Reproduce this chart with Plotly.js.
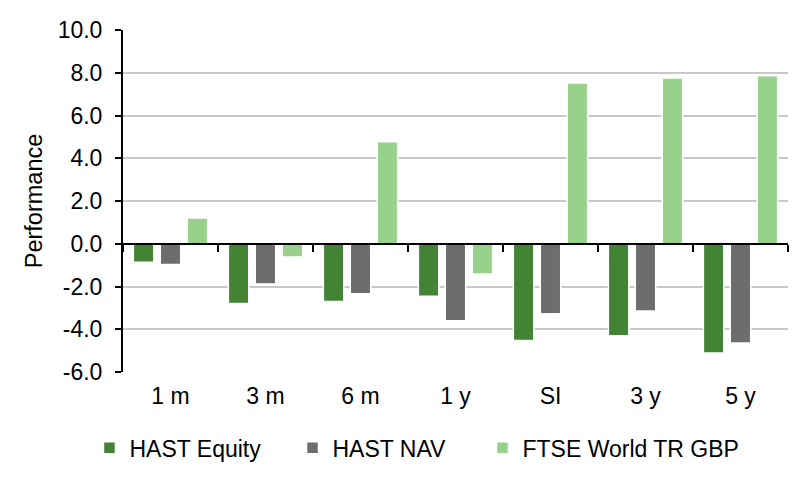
<!DOCTYPE html>
<html>
<head>
<meta charset="utf-8">
<script src="https://cdn.plot.ly/plotly-3.0.1.min.js"></script>
<style>html,body{margin:0;padding:0;background:#fff;}#chart{width:800px;height:485px;}</style>
</head>
<body>
<div id="chart"></div>
<script>
const categories = ["1 m", "3 m", "6 m", "1 y", "SI", "3 y", "5 y"];
const hastEquity = [-0.86, -2.8, -2.7, -2.46, -4.53, -4.3, -5.11];
const hastNav = [-0.97, -1.88, -2.34, -3.6, -3.27, -3.15, -4.64];
const ftseWorld = [1.2, -0.62, 4.77, -1.42, 7.52, 7.76, 7.86];
const seriesNames = ["HAST Equity", "HAST NAV", "FTSE World TR GBP"];
const yTicks = [-6, -4, -2, 0, 2, 4, 6, 8, 10];

const FONT = "Liberation Sans, Arial, sans-serif";
const FS = 23;
const colors = ["#428334", "#6d6d6d", "#98d18b"];
const series = [hastEquity, hastNav, ftseWorld];
const legendIds = ["legend", "legend2", "legend3"];
const legendX = [-0.0504, 0.2549, 0.5406];

const traces = series.map((vals, i) => ({
  type: "bar",
  name: seriesNames[i],
  x: categories,
  y: vals,
  legend: legendIds[i],
  marker: {color: colors[i], line: {color: "#ffffff", width: 1.5}},
  hoverinfo: "skip"
}));
// carrier for the zero-line axis with category boundary ticks
traces.push({type: "scatter", x: [], y: [], xaxis: "x2", yaxis: "y", showlegend: false, hoverinfo: "skip"});

const boundaries = [];
for (let k = 0; k <= categories.length; k++) boundaries.push(k - 0.5);

const yMin = yTicks[0], yMax = yTicks[yTicks.length - 1];

const layout = {
  width: 800, height: 485,
  margin: {l: 123, r: 12, t: 30, b: 113},
  paper_bgcolor: "#ffffff", plot_bgcolor: "#ffffff",
  font: {family: FONT, size: FS, color: "#000000"},
  barmode: "group",
  bargap: 0.15,
  bargroupgap: 0.24,
  showlegend: true,
  xaxis: {
    type: "category", range: [-0.5, categories.length - 0.5],
    showline: false, ticks: "", showgrid: false, zeroline: false,
    ticklabelstandoff: 8,
    tickfont: {family: FONT, size: FS, color: "#000000"},
    fixedrange: true
  },
  xaxis2: {
    overlaying: "x", anchor: "free",
    position: (0 - yMin) / (yMax - yMin),
    range: [-0.5, categories.length - 0.5],
    tickmode: "array", tickvals: boundaries, ticktext: boundaries.map(() => ""),
    ticks: "outside", ticklen: 7, tickwidth: 2, tickcolor: "#000000",
    showline: true, linecolor: "#000000", linewidth: 2,
    showgrid: false, zeroline: false, showticklabels: false,
    layer: "above traces", fixedrange: true
  },
  yaxis: {
    range: [yMin, yMax],
    tickmode: "array", tickvals: yTicks, ticktext: yTicks.map(v => v.toFixed(1)),
    showline: true, linecolor: "#000000", linewidth: 2,
    ticks: "outside", ticklen: 6, tickwidth: 2, tickcolor: "#000000",
    showgrid: true, gridcolor: "#c8c8c8", gridwidth: 2,
    zeroline: false,
    ticklabelstandoff: 8,
    tickfont: {family: FONT, size: FS, color: "#000000"},
    title: {text: "Performance", font: {family: FONT, size: 23.5, color: "#000000"}, standoff: 8},
    fixedrange: true
  }
};

legendIds.forEach((id, i) => {
  layout[id] = {
    orientation: "h", x: legendX[i], xanchor: "left", y: -0.222, yanchor: "middle",
    font: {family: FONT, size: FS, color: "#000000"},
    bgcolor: "rgba(0,0,0,0)"
  };
});

Plotly.newPlot("chart", traces, layout, {displayModeBar: false, staticPlot: true});
</script>
</body>
</html>
